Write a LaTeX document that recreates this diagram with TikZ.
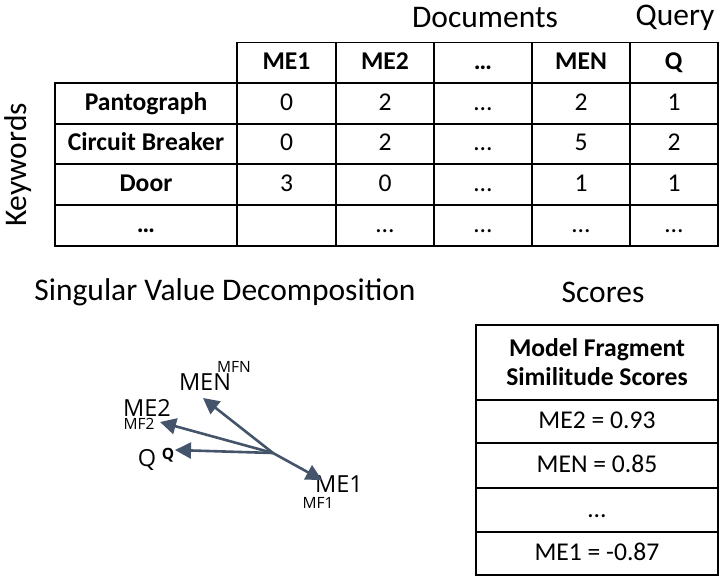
\documentclass[tikz,border=0pt]{standalone}
\usepackage{fontspec}
\setmainfont{Carlito}
\newfontfamily\svdfont{Open Sans}
\usetikzlibrary{arrows.meta,positioning}

\definecolor{slate}{HTML}{44546A}

\begin{document}
\begin{tikzpicture}[x=1pt,y=-1pt,
  box/.style={draw,line width=1.4pt,inner sep=0pt,font=\fontsize{25.6}{29}\selectfont},
  cell/.style={box,minimum height=41pt,text height=19pt,text depth=5pt},
  title/.style={font=\fontsize{31.5}{35}\selectfont,inner sep=0pt},
  vec/.style={draw=slate,line width=2.6pt,-{Triangle[length=16pt,width=16pt]}},
  big/.style={font=\svdfont\fontsize{23.5}{25}\selectfont,inner sep=0pt},
  small/.style={font=\svdfont\fontsize{15.5}{16}\selectfont,inner sep=0pt}]

\useasboundingbox (0,0) rectangle (719,577);

\node[title] (docs) at (485,18) {Documents};
\node[title] (query) at (675,18) {Query};
\node[title,rotate=90] (kw) at (18,165) {Keywords};

% header row
\node[cell,minimum width=99pt] (hME1) at (286.5,63) {\textbf{ME1}};
\node[cell,minimum width=98pt] (hME2) at (385,63) {\textbf{ME2}};
\node[cell,minimum width=98pt] (hdots) at (483,63) {\textbf{…}};
\node[cell,minimum width=98pt] (hMEN) at (581,63) {\textbf{MEN}};
\node[cell,minimum width=88pt] (hQ) at (674,63) {\textbf{Q}};

% rows
\node[cell,minimum width=182pt] (kPan) at (146,103.5) {\textbf{Pantograph}};
\node[cell,minimum width=99pt] (a11) at (286.5,103.5) {0};
\node[cell,minimum width=98pt] (a12) at (385,103.5) {2};
\node[cell,minimum width=98pt] (a13) at (483,103.5) {…};
\node[cell,minimum width=98pt] (a14) at (581,103.5) {2};
\node[cell,minimum width=88pt] (a15) at (674,103.5) {1};

\node[cell,minimum width=182pt] (kCB) at (146,144) {\textbf{Circuit Breaker}};
\node[cell,minimum width=99pt] (a21) at (286.5,144) {0};
\node[cell,minimum width=98pt] (a22) at (385,144) {2};
\node[cell,minimum width=98pt] (a23) at (483,144) {…};
\node[cell,minimum width=98pt] (a24) at (581,144) {5};
\node[cell,minimum width=88pt] (a25) at (674,144) {2};

\node[cell,minimum width=182pt] (kDoor) at (146,184.5) {\textbf{Door}};
\node[cell,minimum width=99pt] (a31) at (286.5,184.5) {3};
\node[cell,minimum width=98pt] (a32) at (385,184.5) {0};
\node[cell,minimum width=98pt] (a33) at (483,184.5) {…};
\node[cell,minimum width=98pt] (a34) at (581,184.5) {1};
\node[cell,minimum width=88pt] (a35) at (674,184.5) {1};

\node[cell,minimum width=182pt] (kdots) at (146,225.5) {\textbf{…}};
\node[cell,minimum width=99pt] (a41) at (286.5,225.5) {};
\node[cell,minimum width=98pt] (a42) at (385,225.5) {…};
\node[cell,minimum width=98pt] (a43) at (483,225.5) {…};
\node[cell,minimum width=98pt] (a44) at (581,225.5) {…};
\node[cell,minimum width=88pt] (a45) at (674,225.5) {…};

\node[title] (svd) at (225,292) {Singular Value Decomposition};
\node[title] (scores) at (603,292) {Scores};

% vectors
\coordinate (o) at (273,453);
\coordinate (tME1) at (322,480);
\coordinate (tMEN) at (203,398);
\coordinate (tME2) at (160,422);
\coordinate (tQ) at (175,450);

\node[big] (lMEN) at (205,382) {MEN};
\node[small] (lMFN) at (234,367) {MFN};
\node[big] (lME2) at (147,408) {ME2};
\node[small] (lMF2) at (139,424) {MF2};
\node[big] (lQ) at (147,460) {Q};
\node[small,font=\svdfont\bfseries\fontsize{15.5}{16}\selectfont] (lQs) at (168,455) {Q};
\node[big] (lME1) at (339,484) {ME1};
\node[small] (lMF1) at (318,503) {MF1};

\draw[vec] (o) -- (tQ);
\draw[vec] (o) -- (tME2);
\draw[vec] (o) -- (tMEN);
\draw[vec] (o) -- (tME1);

% scores
\node[box,minimum width=242pt,minimum height=75pt,align=center] (s0) at (597,362.5) {\textbf{Model Fragment}\\\textbf{Similitude Scores}};
\node[cell,minimum width=242pt,minimum height=43pt] (s1) at (597,421.5) {ME2 = 0.93};
\node[cell,minimum width=242pt,minimum height=45pt] (s2) at (597,465.5) {MEN = 0.85};
\node[cell,minimum width=242pt,minimum height=44pt] (s3) at (597,510) {…};
\node[cell,minimum width=242pt,minimum height=43pt] (s4) at (597,553.5) {ME1 = -0.87};

\end{tikzpicture}
\end{document}
